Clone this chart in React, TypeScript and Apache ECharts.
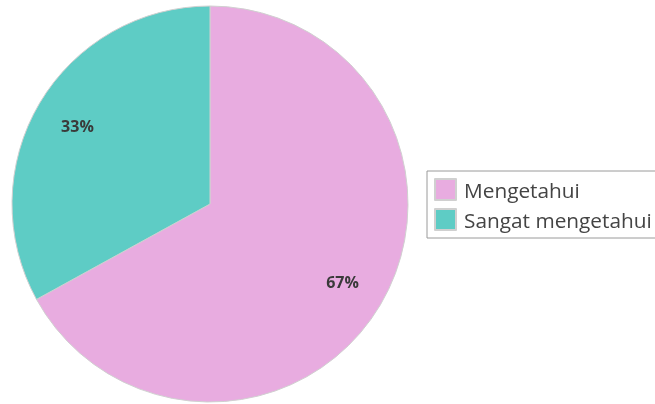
import React, { useEffect, useRef } from "react";
import * as echarts from "echarts";

const categories = ["Mengetahui", "Sangat mengetahui"];
const values = [67, 33];
const colors = ["#E8ACE0", "#5ECCC5"];

export default function App() {
  const ref = useRef<HTMLDivElement>(null);
  useEffect(() => {
    if (!ref.current) return;
    const chart = echarts.init(ref.current, undefined, { renderer: "svg" });
    const data = categories.map((name, i) => ({ name, value: values[i], itemStyle: { color: colors[i] } }));
    chart.setOption({
      animation: false,
      legend: {
        orient: "vertical",
        left: 427,
        top: 171,
        data: categories,
        itemWidth: 21,
        itemHeight: 21,
        itemGap: 7,
        padding: [7, 14, 7, 7],
        borderColor: "#9a9a9a",
        borderWidth: 1,
        icon: "rect",
        textStyle: { fontFamily: "Open Sans", fontSize: 20.8, color: "#444", padding: [0, 0, 0, 3] },
      },
      series: [
        {
          type: "pie",
          center: [210, 204],
          radius: [0, 198],
          startAngle: 90,
          clockwise: true,
          data,
          label: { show: false },
          labelLine: { show: false },
          itemStyle: { borderColor: "#d0d0d0", borderWidth: 1 },
          emphasis: { disabled: true },
        },
        {
          type: "pie",
          center: [210, 204],
          radius: [104, 198],
          startAngle: 90,
          clockwise: true,
          silent: true,
          data: categories.map((name, i) => ({ name, value: values[i] })),
          itemStyle: { color: "rgba(0,0,0,0)" },
          label: {
            show: true,
            position: "inside",
            formatter: "{c}%",
            fontFamily: "Open Sans",
            fontWeight: "bold",
            fontSize: 16,
            color: "#3a3a3a",
          },
          labelLine: { show: false },
          emphasis: { disabled: true },
        },
      ],
    });
    return () => chart.dispose();
  }, []);
  return <div ref={ref} style={{ position: "fixed", left: 0, top: 0, width: 655, height: 404 }} />;
}
